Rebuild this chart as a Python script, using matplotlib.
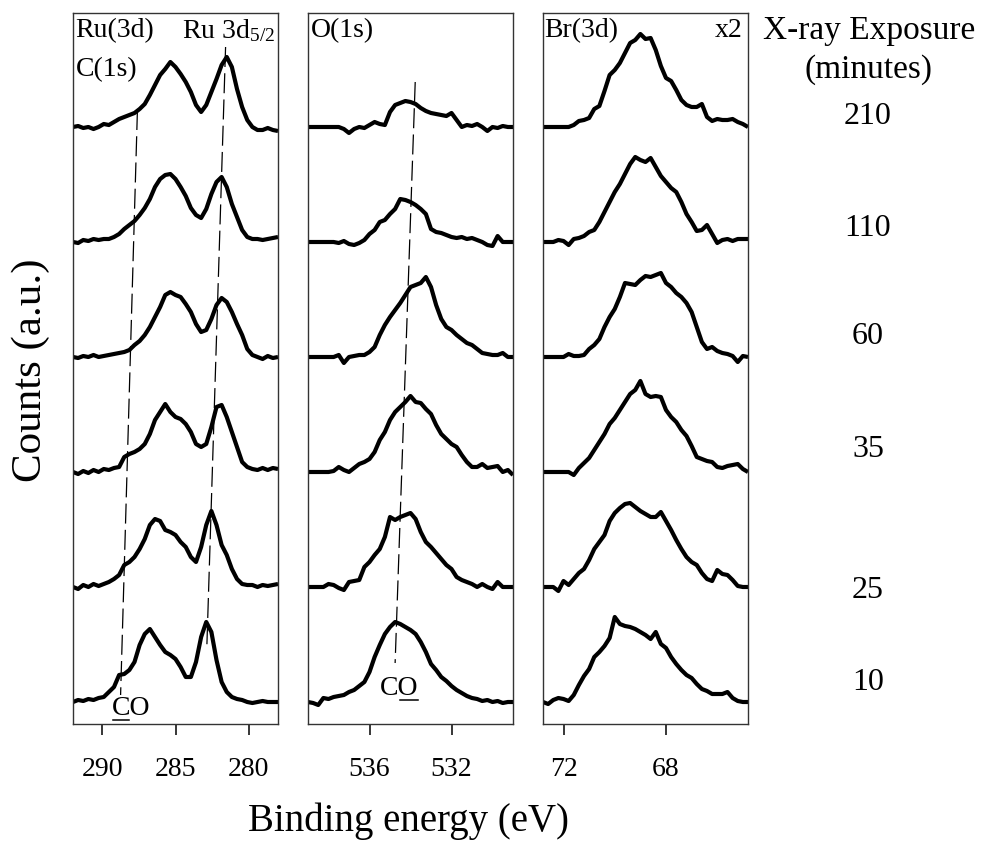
import numpy as np
import matplotlib
matplotlib.use("Agg")
import matplotlib.pyplot as plt
from matplotlib.lines import Line2D

plt.rcParams['font.family'] = ['Liberation Serif', 'DejaVu Serif']
plt.rcParams['mathtext.fontset'] = 'custom'
plt.rcParams['mathtext.rm'] = 'Liberation Serif'
plt.rcParams['mathtext.it'] = 'Liberation Serif:italic'

# exposure times, top trace first
exposure_min = [210, 110, 60, 35, 25, 10]

# binding-energy sampling of each region (eV)
e_ru = np.linspace(292.0, 278.0, 41)
e_o = np.linspace(539.0, 529.0, 41)
e_br = np.linspace(72.8, 64.8, 41)

# Ru(3d)/C(1s) region, counts (a.u.) above each trace's own baseline
ru_210 = [0, 1, -1, 0, -2, 0, 3, 2, 5, 8, 10, 12, 14, 18, 23, 32, 42, 52, 58, 65, 60,
          53, 45, 35, 22, 15, 22, 35, 48, 62, 70, 60, 38, 20, 7, 0, -3, -3, -1, -3, -4]
ru_110 = [0, -1, 2, 1, 3, 2, 3, 3, 5, 8, 13, 17, 21, 27, 34, 43, 55, 63, 67, 68, 63,
          55, 46, 34, 27, 24, 33, 48, 60, 65, 55, 38, 25, 12, 5, 3, 3, 2, 3, 4, 5]
ru_60 = [0, -1, 1, 0, 2, 0, 1, 2, 3, 4, 5, 7, 12, 16, 22, 30, 40, 50, 62, 65, 62,
         60, 53, 45, 33, 25, 27, 38, 52, 59, 55, 45, 33, 22, 8, 2, 0, -2, 1, -1, 0]
ru_35 = [0, -2, 1, -1, 2, 0, 3, 2, 4, 5, 15, 18, 20, 23, 28, 38, 52, 60, 68, 60, 55,
         53, 48, 40, 28, 25, 28, 45, 65, 67, 55, 40, 25, 10, 5, 3, 2, 4, 2, 4, 3]
ru_25 = [0, -2, 2, 0, 3, 1, 3, 5, 8, 12, 22, 25, 30, 38, 48, 62, 68, 66, 57, 55, 52,
         45, 40, 30, 25, 40, 62, 76, 62, 42, 32, 18, 8, 3, 2, 2, 0, 2, 1, 2, 3]
ru_10 = [0, 2, 1, 3, 2, 4, 5, 10, 15, 27, 28, 32, 40, 57, 68, 73, 65, 57, 50, 47, 43,
         35, 25, 25, 40, 65, 80, 70, 42, 20, 10, 5, 3, 2, 0, -1, 0, 1, 0, 0, 0]

# O(1s) region
o_210 = [0, 0, 0, 0, 0, 0, 0, -2, -6, -2, 0, -1, 2, 5, 3, 2, 15, 22, 24, 26, 25,
         23, 19, 16, 14, 13, 12, 11, 14, 7, 0, 2, 1, 3, 0, -4, 0, -1, 1, 0, 0]
o_110 = [0, 0, 0, 0, 0, 0, -1, 1, -2, -3, -1, 2, 8, 12, 20, 22, 28, 33, 43, 42, 40,
         37, 33, 28, 13, 10, 9, 7, 5, 4, 5, 3, 4, 2, 0, -3, -4, 6, 0, 0, 0]
o_60 = [0, 0, 0, 0, 0, 0, 2, -6, 0, 1, 2, 2, 5, 10, 22, 32, 40, 47, 54, 62, 70,
        72, 74, 80, 70, 52, 38, 30, 27, 22, 18, 14, 12, 8, 4, 3, 2, 2, 4, 0, 0]
o_35 = [0, 0, 0, 0, 0, 1, 5, 2, 0, 4, 8, 10, 13, 20, 32, 40, 52, 60, 65, 70, 76,
        70, 69, 63, 58, 47, 38, 33, 28, 25, 17, 10, 5, 5, 8, 4, 5, 6, 0, 2, -3]
o_25 = [0, 0, 0, 0, 3, 2, -1, -3, 5, 6, 7, 20, 25, 32, 38, 50, 70, 67, 70, 72, 74,
        68, 55, 45, 40, 34, 28, 22, 18, 10, 7, 5, 3, 0, 3, 0, -2, 5, 0, 0, 0]
o_10 = [0, -1, -3, 4, 3, 5, 6, 7, 10, 12, 16, 20, 30, 45, 57, 68, 75, 80, 78, 75, 72,
        68, 60, 50, 38, 32, 25, 21, 16, 12, 9, 6, 4, 3, 1, 2, 0, 1, -1, 0, 0]

# Br(3d) region (shown x2)
br_210 = [0, 0, 0, 0, 0, 0, 2, 6, 7, 9, 18, 21, 36, 52, 57, 64, 74, 84, 87, 93, 88,
          89, 77, 61, 49, 46, 37, 27, 22, 20, 20, 23, 10, 6, 8, 7, 7, 8, 5, 3, 0]
br_110 = [0, 0, 0, 2, 1, -3, 3, 4, 6, 10, 12, 20, 30, 40, 50, 58, 68, 78, 85, 82, 80,
          84, 75, 66, 60, 54, 50, 40, 28, 20, 11, 12, 17, 8, -1, 2, 3, 1, 3, 3, 3]
br_60 = [0, 0, 0, 0, 0, 3, 1, 1, 2, 8, 12, 18, 30, 40, 48, 60, 74, 73, 72, 77, 81,
         80, 82, 84, 74, 70, 64, 60, 54, 45, 30, 15, 8, 10, 6, 4, 3, 1, -5, 1, 0]
br_35 = [0, 0, 0, 0, 0, 0, -3, 4, 9, 14, 22, 30, 38, 48, 54, 62, 70, 78, 82, 91, 78,
         75, 76, 75, 62, 55, 50, 42, 36, 26, 15, 13, 11, 10, 5, 4, 6, 7, 8, 3, 0]
br_25 = [0, 0, 0, -4, 6, 2, 8, 14, 18, 27, 38, 45, 52, 66, 74, 79, 83, 84, 80, 76, 73,
         70, 70, 75, 66, 57, 47, 38, 30, 25, 22, 14, 8, 6, 17, 13, 12, 7, 1, 0, 0]
br_10 = [0, -2, 2, 4, 3, 1, 7, 17, 26, 33, 45, 50, 56, 64, 85, 78, 76, 75, 73, 70, 67,
         63, 70, 58, 54, 45, 38, 32, 27, 24, 18, 13, 11, 8, 8, 8, 10, 4, 1, 0, 0]

# guide lines: (binding energies, stacked intensities)
guide_c1s_co = ([287.6, 288.75], [614, 29])
guide_ru_3d52 = ([281.58, 282.86], [677, 77])
guide_o1s_co = ([533.77, 534.75], [642, 61])

regions = [
    (e_ru, [ru_210, ru_110, ru_60, ru_35, ru_25, ru_10], (292.0, 278.0), [290, 285, 280]),
    (e_o, [o_210, o_110, o_60, o_35, o_25, o_10], (539.0, 529.0), [536, 532]),
    (e_br, [br_210, br_110, br_60, br_35, br_25, br_10], (72.8, 64.8), [72, 68]),
]

W, H = 982, 843
fig = plt.figure(figsize=(W / 100, H / 100), dpi=100)

panel_left = [73, 308, 543]
panel_w = 205
top_px, bot_px = 13, 724
step = 115.0
base0 = 22.0

axes = []
for (energy, traces, xlim, ticks), lx in zip(regions, panel_left):
    ax = fig.add_axes([lx / W, 1 - bot_px / H, panel_w / W, (bot_px - top_px) / H])
    n = len(traces)
    for k, tr in enumerate(traces):
        off = base0 + step * (n - 1 - k)
        ax.plot(energy, np.asarray(tr, float) + off, color='black', lw=3.0,
                solid_joinstyle='round', solid_capstyle='butt')
    ax.set_xlim(*xlim)
    ax.set_ylim(0, bot_px - top_px)
    ax.set_yticks([])
    ax.set_xticks(ticks)
    ax.set_xticklabels([str(t) for t in ticks])
    ax.tick_params(axis='x', direction='out', length=8, width=1.1, pad=16,
                   labelsize=20)
    for s in ax.spines.values():
        s.set_linewidth(1.0)
        s.set_color('#333333')
    axes.append(ax)

ax1, ax2, ax3 = axes
dash_kw = dict(color='black', lw=0.9, dashes=(16, 5))
for ax, g in ((ax1, guide_c1s_co), (ax1, guide_ru_3d52), (ax2, guide_o1s_co)):
    ax.add_line(Line2D(g[0], g[1], **dash_kw))

lab = dict(fontsize=20, va='center')
ax1.text(0.012, 0.975, 'Ru(3d)', transform=ax1.transAxes, ha='left', **lab)
ax1.text(0.012, 0.920, 'C(1s)', transform=ax1.transAxes, ha='left', **lab)
ax1.text(0.985, 0.975, r'Ru 3d$_{\mathrm{5/2}}$', transform=ax1.transAxes,
         ha='right', **lab)
ax2.text(0.012, 0.975, 'O(1s)', transform=ax2.transAxes, ha='left', **lab)
ax3.text(0.005, 0.975, 'Br(3d)', transform=ax3.transAxes, ha='left', **lab)
ax3.text(0.975, 0.975, 'x2', transform=ax3.transAxes, ha='right', **lab)

# "CO" labels with the emitting atom underlined
co_kw = dict(fontsize=20, va='center', ha='left')
t_co1 = ax1.text(0.19, 0.022, 'CO', transform=ax1.transAxes, **co_kw)
t_c1 = ax1.text(0.19, 0.022, 'C', transform=ax1.transAxes, alpha=0, **co_kw)
t_co2 = ax2.text(0.352, 0.050, 'CO', transform=ax2.transAxes, **co_kw)
t_c2 = ax2.text(0.352, 0.050, 'C', transform=ax2.transAxes, alpha=0, **co_kw)

fig.text(0.4155, 0.026, 'Binding energy (eV)', ha='center', va='center', fontsize=28)
fig.text(0.031, 0.561, 'Counts (a.u.)', ha='center', va='center', rotation=90,
         fontsize=31)

fig.text(869 / W, 1 - 31 / H, 'X-ray Exposure', ha='center', va='center', fontsize=24)
fig.text(869 / W, 1 - 70 / H, '(minutes)', ha='center', va='center', fontsize=24)
label_px = [117, 228, 337, 450, 591, 683]
for m, py in zip(exposure_min, label_px):
    fig.text(868 / W, 1 - py / H, str(m), ha='center', va='center', fontsize=23)

fig.canvas.draw()
r = fig.canvas.get_renderer()
inv = fig.transFigure.inverted()


def underline(x0, x1, y):
    (fx0, fy), (fx1, _) = inv.transform([(x0, y), (x1, y)])
    fig.add_artist(Line2D([fx0, fx1], [fy, fy], color='black', lw=1.1,
                          transform=fig.transFigure))


b_co1, b_c1 = t_co1.get_window_extent(r), t_c1.get_window_extent(r)
underline(b_c1.x0 + 1, b_c1.x1 - 1, b_co1.y0 + 1)
b_co2, b_c2 = t_co2.get_window_extent(r), t_c2.get_window_extent(r)
underline(b_c2.x1 + 1, b_co2.x1 - 1, b_co2.y0 + 1)

fig.savefig('out.png', dpi=100)
